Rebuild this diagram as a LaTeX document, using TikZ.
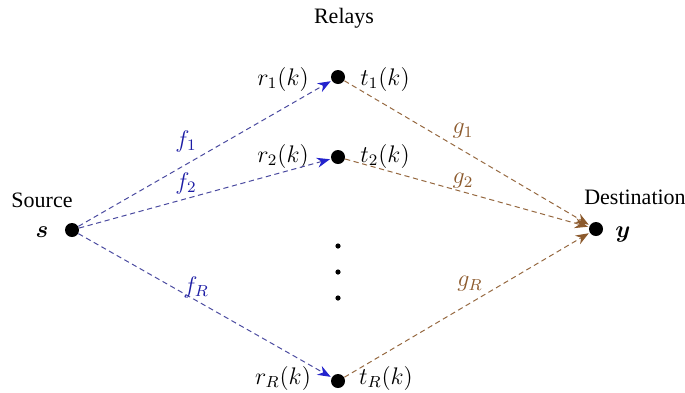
\documentclass[tikz,border=0pt]{standalone}
\usepackage{amsmath,amssymb,bm}
\usepackage{fontspec}
\setmainfont{Liberation Serif}
\usetikzlibrary{arrows.meta}
\definecolor{fblue}{RGB}{35,35,205}
\definecolor{flinkcol}{RGB}{75,75,160}
\definecolor{gbrown}{RGB}{140,90,45}
\definecolor{glinkcol}{RGB}{150,105,65}
\begin{document}
\begin{tikzpicture}[x=0.5pt,y=-0.5pt,
  dotnode/.style={circle,fill=black,inner sep=0pt,minimum size=7pt},
  smalldot/.style={circle,fill=black,inner sep=0pt,minimum size=2.6pt},
  flinkst/.style={draw=flinkcol,dash pattern=on 2.6pt off 1.8pt,line width=0.5pt,
    -{Stealth[length=6.5pt,width=5pt,color=fblue,fill=fblue]},shorten >=0.5pt},
  glinkst/.style={draw=glinkcol,dash pattern=on 2.6pt off 1.8pt,line width=0.5pt,
    -{Stealth[length=6.5pt,width=5pt,color=gbrown,fill=gbrown]},shorten >=0.5pt},
  flab/.style={text=fblue!80!black,font=\large},
  glab/.style={text=gbrown,font=\large},
  mlab/.style={font=\large},
  txt/.style={font=\fontsize{11}{13}\selectfont}]
\useasboundingbox (0,0) rectangle (685,392);
\node[dotnode] (s) at (72,230) {};
\node[dotnode] (r1) at (338,77) {};
\node[dotnode] (r2) at (338,157) {};
\node[dotnode] (rR) at (338,381) {};
\node[dotnode] (y) at (596,229) {};
\node[smalldot] (d1) at (338,246) {};
\node[smalldot] (d2) at (338,272) {};
\node[smalldot] (d3) at (338,298) {};
\node[txt] (relays) at (344,18) {Relays};
\node[txt] (source) at (42,200) {Source};
\node[txt] (dest) at (635,197) {Destination};
\node[mlab] (slab) at (42,232) {$\bm{s}$};
\node[mlab] (ylab) at (623,234) {$\bm{y}$};
\node[mlab] (r1l) at (283,79) {$r_1(k)$};
\node[mlab] (t1l) at (385,79) {$t_1(k)$};
\node[mlab] (r2l) at (283,156) {$r_2(k)$};
\node[mlab] (t2l) at (385,156) {$t_2(k)$};
\node[mlab] (rRl) at (283,378) {$r_R(k)$};
\node[mlab] (tRl) at (386,378) {$t_R(k)$};
\draw[flinkst] (s) -- (r1);
\draw[flinkst] (s) -- (r2);
\draw[flinkst] (s) -- (rR);
\draw[glinkst] (r1) -- (y);
\draw[glinkst] (r2) -- (y);
\draw[glinkst] (rR) -- (y);
\node[flab] (f1) at (186,141) {$f_1$};
\node[flab] (f2) at (186,183) {$f_2$};
\node[flab] (fR) at (196,287) {$f_R$};
\node[glab] (g1) at (463,131) {$g_1$};
\node[glab] (g2) at (463,181) {$g_2$};
\node[glab] (gR) at (470,284) {$g_R$};
\end{tikzpicture}
\end{document}
